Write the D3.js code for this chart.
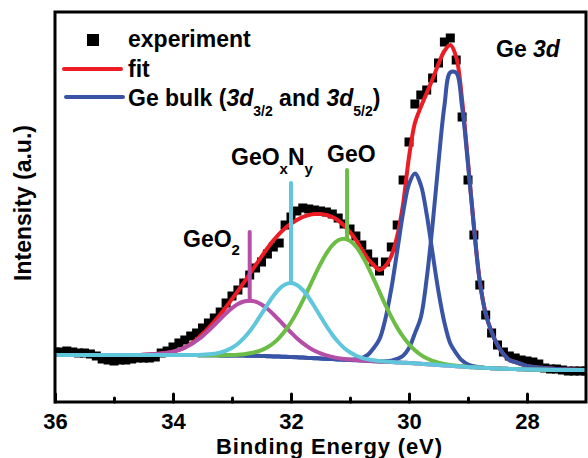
<!DOCTYPE html>
<html>
<head>
<meta charset="utf-8">
<script src="https://cdn.jsdelivr.net/npm/d3@7"></script>
<style>
body { margin: 0; background: #fff; }
svg { display: block; font-family: "Liberation Sans", Arial, Helvetica, sans-serif; font-weight: bold; }
</style>
</head>
<body>
<svg id="chart" width="588" height="458"></svg>
<script>
// experimental points (binding energy in eV, intensity in a.u.)
var expE = [36.0, 35.9, 35.8, 35.7, 35.6, 35.5, 35.4, 35.3, 35.2, 35.1,
	35.0, 34.9, 34.8, 34.7, 34.6, 34.5, 34.4, 34.3, 34.2, 34.1,
	34.0, 33.9, 33.8, 33.7, 33.6, 33.5, 33.4, 33.3, 33.2, 33.1,
	33.0, 32.9, 32.8, 32.7, 32.6, 32.5, 32.4, 32.3, 32.2, 32.1,
	32.0, 31.9, 31.8, 31.7, 31.6, 31.5, 31.4, 31.3, 31.2, 31.1,
	31.0, 30.9, 30.8, 30.7, 30.6, 30.5, 30.4, 30.3, 30.2, 30.1,
	30.0, 29.9, 29.8, 29.7, 29.6, 29.5, 29.4, 29.3, 29.2, 29.1,
	29.0, 28.9, 28.8, 28.7, 28.6, 28.5, 28.4, 28.3, 28.2, 28.1,
	28.0, 27.9, 27.8, 27.7, 27.6, 27.5, 27.4, 27.3, 27.2, 27.1, 27.0]
var expI = [50, 50, 51, 50, 49, 49, 48, 46, 43, 42,
	41, 42, 42, 43, 44, 44, 44, 45, 49, 51,
	55, 59, 62, 66, 69, 74, 79, 84, 90, 99,
	106, 112, 119, 127, 134, 140, 148, 155, 159, 177,
	185, 191, 194, 193, 192, 191, 190, 188, 184, 178,
	173, 166, 157, 148, 140, 131, 140, 155, 177, 222,
	260, 298, 307, 312, 324, 339, 360, 364, 342, 285,
	222, 167, 117, 87, 69, 57, 50, 46, 44, 42,
	41, 40, 38, 34, 33, 33, 32, 31, 31, 31, 31]

// energies at which the fitted curves were read
var curveE = [36, 35.5, 35, 34.5, 34, 33.9, 33.8, 33.7, 33.6, 33.5,
	33.4, 33.3, 33.2, 33.1, 33, 32.9, 32.8, 32.7, 32.6, 32.5,
	32.4, 32.3, 32.2, 32.1, 32, 31.9, 31.8, 31.7, 31.6, 31.5,
	31.4, 31.3, 31.2, 31.1, 31, 30.9, 30.8, 30.7, 30.6, 30.5,
	30.4, 30.3, 30.2, 30.1, 30, 29.9, 29.8, 29.7, 29.6, 29.5,
	29.4, 29.3, 29.2, 29.1, 29, 28.9, 28.8, 28.7, 28.6, 28.5,
	28.4, 28.3, 28.2, 28.1, 28, 27.5, 27]

var fitI = [47, 47, 47, 47.3, 50.4, 52.1, 54.5, 58, 62.5, 68,
	74, 80.5, 87.5, 95, 103, 111, 119.3, 128.1, 136.9, 145.4,
	153.7, 161.4, 168.2, 173.8, 178.3, 182, 185, 187, 188, 188,
	187, 185, 181.5, 176.5, 170, 162, 152.5, 143.5, 137, 132,
	136, 146, 166, 198, 245, 279, 295, 309, 323, 338,
	351, 357, 345, 302, 240, 176, 121, 88.5, 70, 57,
	48, 42, 40, 38, 36, 33, 32]

var bulk32I = [47, 47, 47, 47, 47, 47, 47, 46.9, 46.9, 46.8,
	46.8, 46.7, 46.6, 46.6, 46.5, 46.5, 46.4, 46.3, 46.2, 46.0,
	45.8, 45.6, 45.4, 45.2, 45.0, 44.7, 44.4, 44.1, 43.8, 43.5,
	43.2, 42.9, 42.6, 42.3, 42.3, 42.7, 43.9, 47.1, 53.8, 62.8,
	83.1, 113.2, 150.8, 189.1, 218.0, 228.6, 217.2, 187.6, 148.6, 110.3,
	79.5, 58.5, 48.8, 41.4, 37.5, 35.7, 34.7, 34.1, 33.8, 33.5,
	33.3, 33.1, 32.9, 32.7, 32.5, 32, 32]

var bulk52I = [47, 47, 47, 47, 47, 47, 47, 46.9, 46.9, 46.8,
	46.8, 46.7, 46.6, 46.6, 46.5, 46.5, 46.4, 46.3, 46.2, 46.0,
	45.8, 45.6, 45.4, 45.2, 45.0, 44.7, 44.4, 44.1, 43.8, 43.5,
	43.2, 42.9, 42.6, 42.3, 42.0, 41.7, 41.4, 41.1, 40.8, 40.5,
	40.7, 41.4, 43.1, 46.3, 54.0, 68.6, 84.5, 123.5, 177.6, 239.8,
	296.1, 329.6, 329.2, 294.9, 237.8, 174.9, 120.1, 88, 70, 57,
	48, 42, 40, 38, 36, 33, 32]

var geo2I = [47, 47, 47, 47.3, 50.4, 52.1, 54.4, 57.4, 61.3, 65.9,
	71.3, 77.0, 83.0, 88.8, 93.9, 98.0, 100.5, 101.3, 100.3, 97.5,
	93.2, 87.8, 81.8, 75.5, 69.5, 63.8, 58.8, 54.6, 51.2, 48.6,
	46.6, 45.1, 43.9, 43.1, 42.5, 42.0, 41.4, 41.1, 40.8, 40.5,
	40.2, 39.9, 39.6, 39.3, 39.0, 38.6, 38.2, 37.8, 37.4, 37.0,
	36.6, 36.2, 35.8, 35.4, 35.0, 34.7, 34.4, 34.1, 33.8, 33.5,
	33.3, 33.1, 32.9, 32.7, 32.5, 32, 32]

var geoxnyI = [47, 47, 47, 47, 47, 47, 47, 47.0, 47.1, 47.3,
	47.7, 48.3, 49.4, 51.4, 54.2, 58.3, 63.8, 70.7, 79.0, 88.0,
	97.3, 106.0, 113.0, 117.5, 119.0, 117.0, 112.0, 104.5, 95.3, 85.5,
	76.0, 67.3, 60.0, 54.1, 49.7, 46.5, 44.2, 42.7, 41.7, 41.0,
	40.4, 39.9, 39.6, 39.3, 39.0, 38.6, 38.2, 37.8, 37.4, 37.0,
	36.6, 36.2, 35.8, 35.4, 35.0, 34.7, 34.4, 34.1, 33.8, 33.5,
	33.3, 33.1, 32.9, 32.7, 32.5, 32, 32]

var geoI = [47, 47, 47, 47, 47, 47, 47, 46.9, 46.9, 46.8,
	46.8, 46.7, 46.6, 46.9, 47.0, 47.3, 47.8, 48.7, 50.0, 51.9,
	54.8, 58.8, 64.2, 71.2, 79.8, 89.9, 101.3, 113.7, 126.2, 138.1,
	148.6, 156.7, 161.7, 163.3, 161.1, 155.5, 146.8, 135.7, 123.2, 110.1,
	97.1, 85.1, 74.4, 65.3, 57.8, 51.8, 47.2, 43.7, 41.2, 39.4,
	38.0, 37.0, 36.3, 35.7, 35.0, 34.7, 34.4, 34.1, 33.8, 33.5,
	33.3, 33.1, 32.9, 32.7, 32.5, 32, 32]

// peak marker sticks: energy, top of stick, component peak
var markE = [32.7, 32.0, 31.05]
var markTop = [170, 219, 232]
var markPeak = [101.3, 119.0, 163.0]

var xTicks = [36, 34, 32, 30, 28]
var xMinor = [35, 33, 31, 29]

var svg = d3.select('#chart')

var x = d3.scaleLinear().domain([36, 27]).range([55, 586])
var y = d3.scaleLinear().domain([0, 390]).range([402, 12])

svg.append('clipPath').attr('id', 'plotclip')
	.append('rect')
	.attr('x', 55).attr('y', 12)
	.attr('width', 531).attr('height', 390)

var plot = svg.append('g').attr('clip-path', 'url(#plotclip)')

// experiment squares
plot.append('g').selectAll('rect')
	.data(expE)
	.enter().append('rect')
	.attr('x', function(d) {return x(d) - 4.5})
	.attr('y', function(d, i) {return y(expI[i]) - 4.5})
	.attr('width', 9)
	.attr('height', 9)
	.attr('fill', '#000')

var line = d3.line()
	.x(function(d) {return x(d[0])})
	.y(function(d) {return y(d[1])})
	.curve(d3.curveCatmullRom.alpha(0.5))

function pairs(vals) {
	return curveE.map(function(e, i) {return [e, vals[i]]})
}

var curves = [
	{values: fitI, color: '#ec1c24'},
	{values: bulk32I, color: '#3a54a5'},
	{values: bulk52I, color: '#3a54a5'},
	{values: geo2I, color: '#b54ea6'},
	{values: geoI, color: '#6cbd45'},
	{values: geoxnyI, color: '#5fc6dc'}
]

plot.append('g').selectAll('path')
	.data(curves)
	.enter().append('path')
	.attr('d', function(c) {return line(pairs(c.values))})
	.attr('fill', 'none')
	.attr('stroke', function(c) {return c.color})
	.attr('stroke-width', 4)
	.attr('stroke-linejoin', 'round')

var markColors = ['#b54ea6', '#5fc6dc', '#6cbd45']
plot.append('g').selectAll('line')
	.data(markE)
	.enter().append('line')
	.attr('x1', function(d) {return x(d)})
	.attr('x2', function(d) {return x(d)})
	.attr('y1', function(d, i) {return y(markTop[i])})
	.attr('y2', function(d, i) {return y(markPeak[i])})
	.attr('stroke', function(d, i) {return markColors[i]})
	.attr('stroke-width', 4)
	.attr('stroke-linecap', 'round')

// axes
var xAxis = d3.axisBottom(x)
	.tickValues(xTicks)
	.tickSizeInner(-8)
	.tickSizeOuter(0)
	.tickPadding(11)
	.tickFormat(d3.format('d'))

var gx = svg.append('g').attr('transform', 'translate(0,402)').call(xAxis)
gx.select('.domain').remove()
gx.selectAll('line').attr('stroke', '#000').attr('stroke-width', 3).attr('stroke-linecap', 'round')
gx.selectAll('text')
	.attr('font-size', 22)
	.attr('font-family', '"Liberation Sans", Arial, sans-serif')
	.attr('font-weight', 'bold')
	.attr('fill', '#000')

var gm = svg.append('g').attr('transform', 'translate(0,402)')
	.call(d3.axisBottom(x).tickValues(xMinor).tickSizeInner(-4).tickSizeOuter(0).tickFormat(''))
gm.select('.domain').remove()
gm.selectAll('line').attr('stroke', '#000').attr('stroke-width', 3).attr('stroke-linecap', 'round')

// frame
svg.append('rect')
	.attr('x', 55).attr('y', 12)
	.attr('width', 531).attr('height', 390)
	.attr('fill', 'none')
	.attr('stroke', '#000')
	.attr('stroke-width', 3)

// axis titles
svg.append('text')
	.attr('x', 329).attr('y', 454)
	.attr('text-anchor', 'middle')
	.attr('font-size', 22)
	.attr('textLength', 226)
	.text('Binding Energy (eV)')

svg.append('text')
	.attr('transform', 'translate(31,203) rotate(-90)')
	.attr('text-anchor', 'middle')
	.attr('font-size', 23)
	.text('Intensity (a.u.)')

// legend
var legend = svg.append('g')
legend.append('rect').attr('x', 87).attr('y', 34).attr('width', 12).attr('height', 12).attr('fill', '#000')
legend.append('text').attr('x', 128).attr('y', 47).attr('font-size', 23).text('experiment')
legend.append('line').attr('x1', 64).attr('x2', 121).attr('y1', 69).attr('y2', 69)
	.attr('stroke', '#ec1c24').attr('stroke-width', 4).attr('stroke-linecap', 'round')
legend.append('text').attr('x', 128).attr('y', 77).attr('font-size', 23).text('fit')
legend.append('line').attr('x1', 66).attr('x2', 123).attr('y1', 97).attr('y2', 97)
	.attr('stroke', '#3a54a5').attr('stroke-width', 4).attr('stroke-linecap', 'round')

var bulk = legend.append('text').attr('x', 128).attr('y', 106).attr('font-size', 23)
bulk.append('tspan').text('Ge bulk (')
bulk.append('tspan').attr('font-style', 'italic').text('3d')
bulk.append('tspan').attr('font-size', 14).attr('dy', 10).text('3/2')
bulk.append('tspan').attr('dy', -10).text(' and ')
bulk.append('tspan').attr('font-style', 'italic').text('3d')
bulk.append('tspan').attr('font-size', 14).attr('dy', 10).text('5/2')
bulk.append('tspan').attr('dy', -10).text(')')

var ge3d = svg.append('text').attr('x', 496).attr('y', 57).attr('font-size', 23)
ge3d.append('tspan').text('Ge ')
ge3d.append('tspan').attr('font-style', 'italic').text('3d')

// peak labels
var l1 = svg.append('text').attr('x', 183).attr('y', 247).attr('font-size', 23)
l1.append('tspan').text('GeO')
l1.append('tspan').attr('font-size', 15).attr('dy', 8).text('2')

var l2 = svg.append('text').attr('x', 231).attr('y', 165).attr('font-size', 23)
l2.append('tspan').text('GeO')
l2.append('tspan').attr('font-size', 15).attr('dy', 9).text('x')
l2.append('tspan').attr('dy', -9).text('N')
l2.append('tspan').attr('font-size', 15).attr('dy', 9).text('y')

svg.append('text').attr('x', 327).attr('y', 162).attr('font-size', 23).text('GeO')
</script>
</body>
</html>
